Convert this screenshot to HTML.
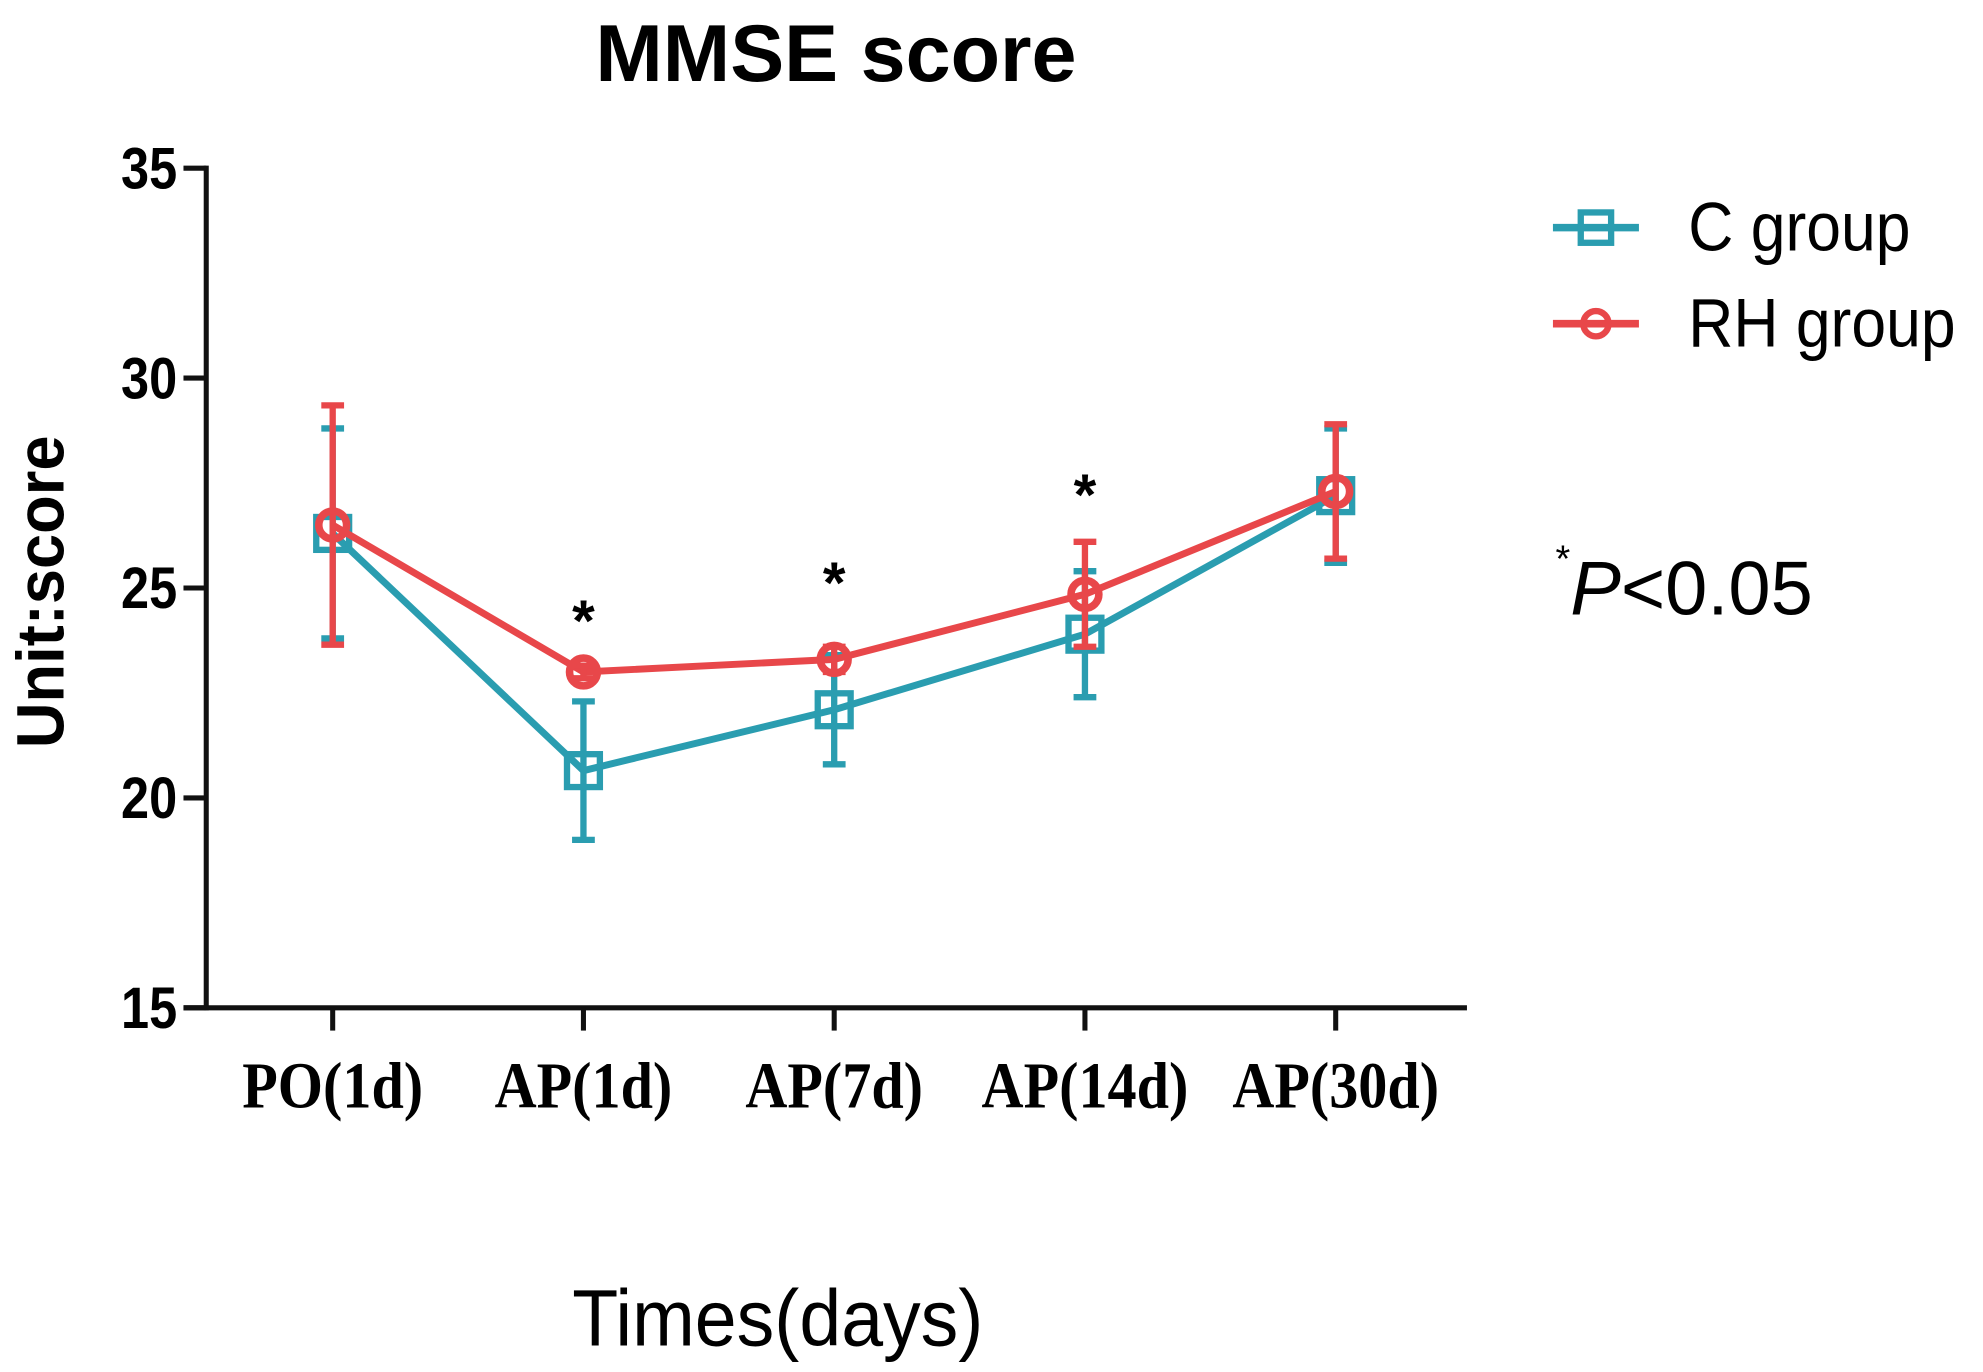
<!DOCTYPE html>
<html><head><meta charset="utf-8"><style>
html,body{margin:0;padding:0;background:#fff;}
svg{display:block;}
</style></head><body>
<svg id="chart" width="1983" height="1372" viewBox="0 0 1568 1085" xmlns="http://www.w3.org/2000/svg">
<rect width="1568" height="1085" fill="#fff"/>
<text x="661" y="64" text-anchor="middle" font-family="Liberation Sans, sans-serif" font-weight="bold" font-size="64">MMSE score</text>
<g id="axes"></g>
<g id="series"></g>
<text transform="translate(50,468) rotate(-90) scale(1,1.05)" text-anchor="middle" font-family="Liberation Sans, sans-serif" font-weight="bold" font-size="50">Unit:score</text>
<text text-anchor="middle" font-family="Liberation Sans, sans-serif" font-size="62" transform="translate(615,1064) scale(0.96,1.02)">Times(days)</text>
<g>
  <g>
    <line x1="1228" y1="180" x2="1296" y2="180" stroke="#2a9db0" stroke-width="6"/>
    <rect x="1250" y="168" width="24" height="24" fill="none" stroke="#2a9db0" stroke-width="5"/>
    <text font-family="Liberation Sans, sans-serif" font-size="52" transform="translate(1335,198) scale(0.95,1.05)">C group</text>
  </g>
  <g>
    <line x1="1228" y1="256" x2="1296" y2="256" stroke="#e8474a" stroke-width="6"/>
    <circle cx="1262" cy="256" r="10" fill="none" stroke="#e8474a" stroke-width="5"/>
    <text font-family="Liberation Sans, sans-serif" font-size="52" transform="translate(1335,274) scale(0.95,1.05)">RH group</text>
  </g>
</g>
<text x="1230" y="486" font-family="Liberation Sans, sans-serif" font-size="60"><tspan font-size="30" dy="-34">*</tspan><tspan font-style="italic" dy="34">P</tspan>&lt;0.05</text>
</svg>
<script>
const categories = ["PO(1d)","AP(1d)","AP(7d)","AP(14d)","AP(30d)"];
const cMean = [26.3, 20.65, 22.1, 23.9, 27.2];
const cErr  = [2.5, 1.65, 1.3, 1.5, 1.6];
const rhMean = [26.5, 23.0, 23.3, 24.85, 27.3];
const rhErr  = [2.85, 0.15, 0.3, 1.25, 1.6];
const sigFlags = [false, true, true, true, false];
const starLevels = [null, 24.4, 25.3, 27.4, null];
const yTicks = [15, 20, 25, 30, 35];

const NS = "http://www.w3.org/2000/svg";
const X0 = 263, DX = 198.3;
function xPos(i){ return X0 + i*DX; }
function yPos(v){ return 797 - (v-15)*(664/20); }
function mk(tag, attrs, parent){ const e=document.createElementNS(NS,tag); for(const k in attrs) e.setAttribute(k,attrs[k]); parent.appendChild(e); return e; }

const axes = document.getElementById('axes');
let yl = mk('line',{x1:163,y1:yPos(35)-2,x2:163,y2:799,stroke:'#111','stroke-width':4},axes);


let xl = mk('line',{x1:145,y1:797,x2:1160,y2:797,stroke:'#111','stroke-width':4},axes);


yTicks.forEach(t=>{
  const y=yPos(t);
  const tk=mk('line',{x1:145,y1:y,x2:163,y2:y,stroke:'#111','stroke-width':4},axes);
  
  
  const tx=mk('text',{'text-anchor':'end','font-family':'Liberation Sans, sans-serif','font-weight':'bold','font-size':42,transform:`translate(140,${y+16}) scale(0.95,1.1)`},axes);
  tx.textContent=t;
  
  
});
categories.forEach((c,i)=>{
  const x=xPos(i);
  const tk=mk('line',{x1:x,y1:797,x2:x,y2:815,stroke:'#111','stroke-width':4},axes);
  
  
  const tx=mk('text',{'text-anchor':'middle','font-family':'Liberation Serif, serif','font-weight':'bold','font-size':46,transform:`translate(${x},876) scale(1,1.12)`},axes);
  tx.textContent=c;
  
  
});

const series = document.getElementById('series');
function drawSeries(mean, err, color, name, marker){
  const g=mk('g',{},series);
  
  
  const pts=mean.map((v,i)=>xPos(i)+','+yPos(v)).join(' ');
  const pl=mk('polyline',{points:pts,fill:'none',stroke:color,'stroke-width':5.5},g);
  
  
  mean.forEach((v,i)=>{
    const x=xPos(i), y1=yPos(v+err[i]), y2=yPos(v-err[i]);
    const eb=mk('path',{d:`M${x},${y1}V${y2}M${x-9},${y1}H${x+9}M${x-9},${y2}H${x+9}`,stroke:color,'stroke-width':5,fill:'none'},g);
    
    
    let m;
    if(marker==='square') m=mk('rect',{x:x-13,y:yPos(v)-13,width:26,height:26,fill:'none',stroke:color,'stroke-width':5},g);
    else m=mk('circle',{cx:x,cy:yPos(v),r:11,fill:'none',stroke:color,'stroke-width':6},g);
    
    
  });
}
drawSeries(cMean,cErr,'#2a9db0','c-group','square');
drawSeries(rhMean,rhErr,'#e8474a','rh-group','circle');
sigFlags.forEach((f,i)=>{
  if(!f) return;
  const s=mk('text',{x:xPos(i),y:yPos(starLevels[i])+22,'text-anchor':'middle','font-family':'Liberation Sans, sans-serif','font-weight':'bold','font-size':46},series);
  s.textContent='*';
  
  
});
</script>
</body></html>
